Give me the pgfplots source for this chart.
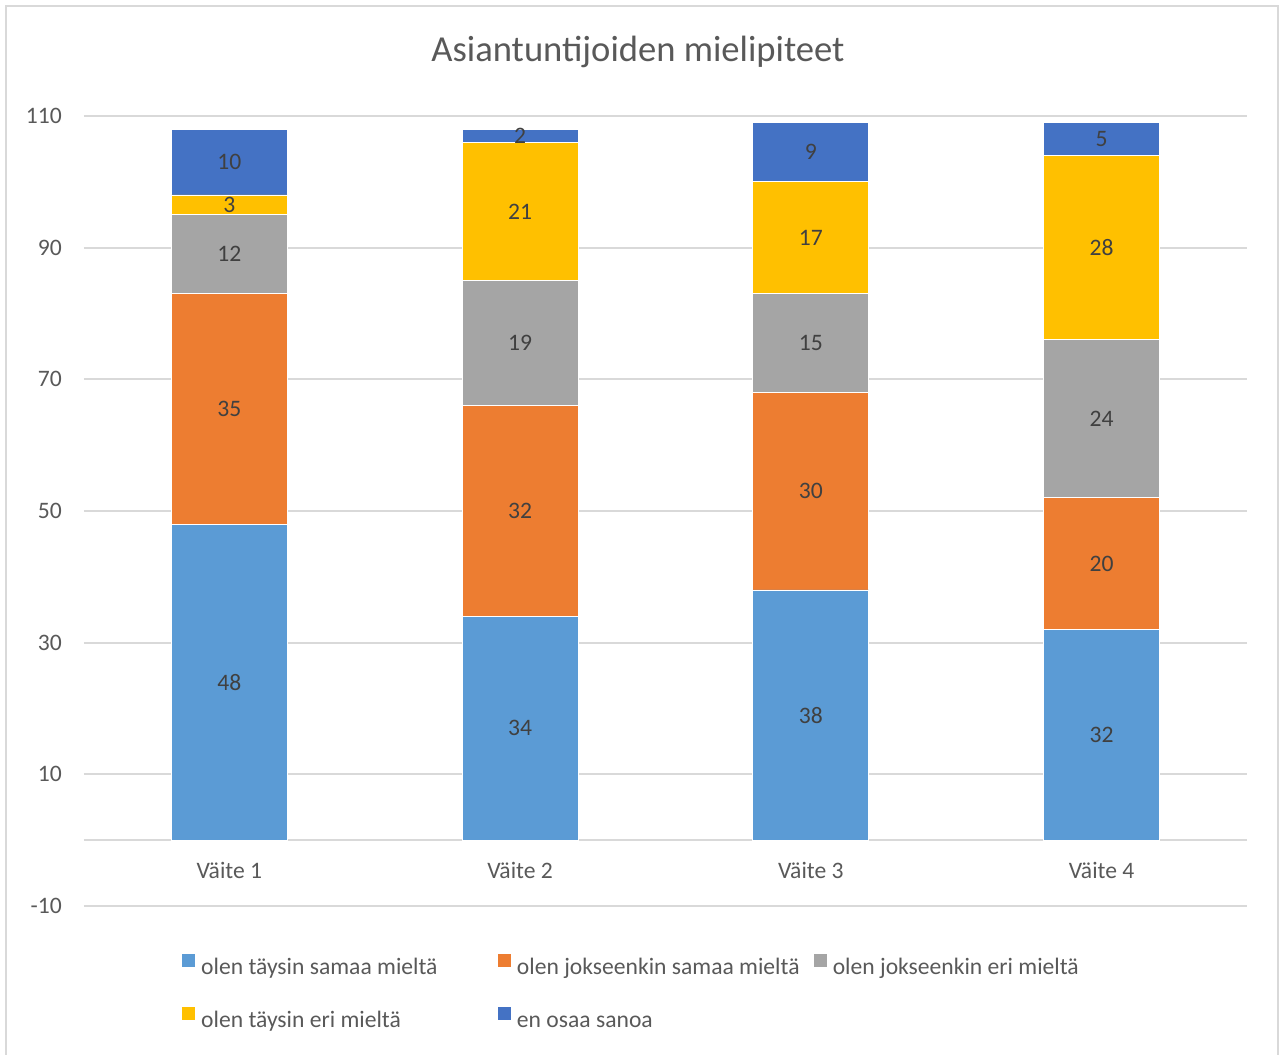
\documentclass[border=0pt]{standalone}
\usepackage{pgfplots}
\pgfplotsset{compat=1.18}
\usepackage{pgfplotstable}
\usepackage{fontspec}
\setmainfont{Carlito}

\definecolor{serA}{HTML}{5B9BD5}
\definecolor{serB}{HTML}{ED7D31}
\definecolor{serC}{HTML}{A5A5A5}
\definecolor{serD}{HTML}{FFC000}
\definecolor{serE}{HTML}{4472C4}
\definecolor{gridgray}{HTML}{D9D9D9}
\definecolor{labelgray}{HTML}{595959}
\definecolor{valuegray}{HTML}{404040}

% answers per statement: a = fully agree ... e = cannot say
\pgfplotstableread{
x a b c d e
0 48 35 12 3 10
1 34 32 19 21 2
2 38 30 15 17 9
3 32 20 24 28 5
}\opinions

\pgfplotsset{
  chartframe/.style={
    scale only axis, width=581.5pt, height=395pt,
    xmin=-0.5, xmax=3.5, ymin=-10, ymax=110,
    /pgf/number format/assume math mode=true,
  },
  squarelegend/.style={
    legend image code/.code={\fill[##1] (0pt,-0.7pt) rectangle (7pt,6.3pt);}
  },
}
\newcommand{\chartfont}{\fontsize{11.8}{14}\selectfont}

\begin{document}
\begin{tikzpicture}
\useasboundingbox (-42pt,-74.5pt) rectangle (598.5pt,453pt);
\draw[gridgray, line width=1pt] (-39pt,-80pt) -- (-39pt,450pt) -- (597pt,450pt) -- (597pt,-80pt);

\begin{axis}[chartframe,
  ybar stacked, bar width=58pt,
  axis line style={draw=none},
  tick style={draw=none},
  ytick={-10,10,...,110},
  extra y ticks={0}, extra y tick labels={},
  extra y tick style={grid=major},
  ymajorgrids,
  major grid style={gridgray, line width=0.9pt},
  xtick={0,1,2,3},
  xticklabels={Väite 1,Väite 2,Väite 3,Väite 4},
  xticklabel style={anchor=base, yshift=13.5pt},
  yticklabel style={xshift=-7.6pt},
  ticklabel style={font=\chartfont, text=labelgray},
  legend columns=3,
  legend cell align=left,
  legend style={at={(0.0834,-0.0595)}, anchor=north west, draw=none, fill=none,
    inner sep=0pt, nodes={inner sep=0pt}, font=\chartfont, text=labelgray,
    row sep=14pt, column sep=0pt,
    /tikz/every odd column/.append style={column sep=2.5pt}},
]
\addplot[fill=serA, draw=white, line width=0.4pt, squarelegend] table[x=x, y=a] {\opinions};
\addlegendentry{\makebox[148pt][l]{\strut olen täysin samaa mieltä}}
\addplot[fill=serB, draw=white, line width=0.4pt, squarelegend] table[x=x, y=b] {\opinions};
\addlegendentry{\makebox[148pt][l]{\strut olen jokseenkin samaa mieltä}}
\addplot[fill=serC, draw=white, line width=0.4pt, squarelegend] table[x=x, y=c] {\opinions};
\addlegendentry{\makebox[148pt][l]{\strut olen jokseenkin eri mieltä}}
\addplot[fill=serD, draw=white, line width=0.4pt, squarelegend] table[x=x, y=d] {\opinions};
\addlegendentry{\makebox[148pt][l]{\strut olen täysin eri mieltä}}
\addplot[fill=serE, draw=white, line width=0.4pt, squarelegend] table[x=x, y=e] {\opinions};
\addlegendentry{\makebox[148pt][l]{\strut en osaa sanoa}}
\end{axis}

% value labels centred in each segment
\begin{axis}[chartframe, hide axis,
  nodes near coords, point meta=explicit,
  every node near coord/.append style={anchor=center, font=\chartfont, text=valuegray},
]
\addplot[draw=none, mark=none] table[x=x, y expr=\thisrow{a}/2, meta=a] {\opinions};
\addplot[draw=none, mark=none] table[x=x, y expr=\thisrow{a}+\thisrow{b}/2, meta=b] {\opinions};
\addplot[draw=none, mark=none] table[x=x, y expr=\thisrow{a}+\thisrow{b}+\thisrow{c}/2, meta=c] {\opinions};
\addplot[draw=none, mark=none] table[x=x, y expr=\thisrow{a}+\thisrow{b}+\thisrow{c}+\thisrow{d}/2, meta=d] {\opinions};
\addplot[draw=none, mark=none] table[x=x, y expr=\thisrow{a}+\thisrow{b}+\thisrow{c}+\thisrow{d}+\thisrow{e}/2, meta=e] {\opinions};
\end{axis}

\node[anchor=base, font=\fontsize{18.3}{22}\selectfont, text=labelgray] at (277pt,422pt) {Asiantuntijoiden mielipiteet};
\end{tikzpicture}
\end{document}
